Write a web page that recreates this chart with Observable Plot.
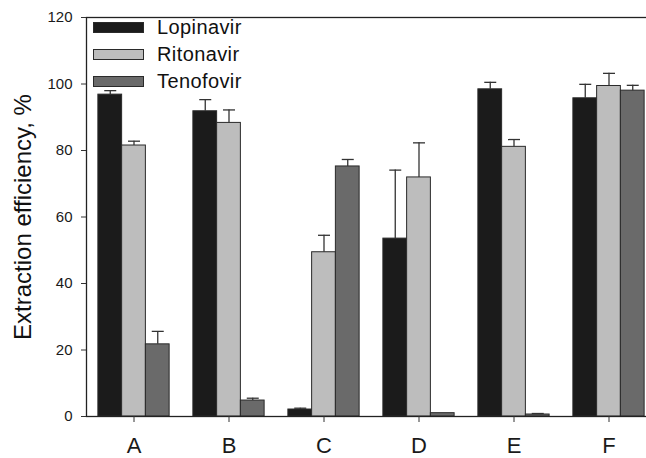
<!DOCTYPE html>
<html>
<head>
<meta charset="utf-8">
<script src="https://cdn.jsdelivr.net/npm/d3@7"></script>
<script src="https://cdn.jsdelivr.net/npm/@observablehq/plot@0.6"></script>
<style>
  html, body { margin: 0; padding: 0; background: #fff; overflow: hidden; }
  #wrap { position: relative; width: 646px; height: 458px; font-family: "Liberation Sans", Arial, sans-serif; }
  #legend { position: absolute; left: 93px; top: 14px; }
  .row { display: flex; align-items: center; height: 27px; }
  .sw { width: 51px; height: 11px; box-sizing: border-box; border: 1px solid #2a2a2a; margin-right: 13px; }
  .lab { font-size: 20px; color: #111; line-height: 23px; letter-spacing: 0.4px; }
</style>
</head>
<body>
<div id="wrap"></div>
<script>
// ---- data ----
const groups = ["A", "B", "C", "D", "E", "F"];
const series = ["Lopinavir", "Ritonavir", "Tenofovir"];
const colors = ["#1b1b1b", "#bdbdbd", "#6a6a6a"];
const lopinavir    = [96.8, 91.8, 2.1, 53.5, 98.4, 95.7];
const lopinavirErr = [1.2, 3.5, 0.4, 20.6, 2.1, 4.2];
const ritonavir    = [81.5, 88.3, 49.4, 71.9, 81.1, 99.4];
const ritonavirErr = [1.3, 3.9, 5.1, 10.4, 2.2, 3.8];
const tenofovir    = [21.7, 4.8, 75.2, 1.0, 0.6, 98.0];
const tenofovirErr = [3.9, 0.7, 2.1, 0, 0.3, 1.6];
const yTicks = [0, 20, 40, 60, 80, 100, 120];
const yLabel = "Extraction efficiency, %";

// ---- build table ----
const values = [lopinavir, ritonavir, tenofovir];
const errs = [lopinavirErr, ritonavirErr, tenofovirErr];
const rows = groups.flatMap((g, i) => series.map((s, j) => ({
  group: g, series: s, key: g + "|" + s, value: values[j][i], err: errs[j][i]
})));
const domain = [];
groups.forEach((g, i) => {
  series.forEach(s => domain.push(g + "|" + s));
  if (i < groups.length - 1) domain.push(g + "|gap");
});
const middleKeys = groups.map(g => g + "|" + series[1]);
const errRows = rows.filter(d => d.err > 0);

const capSymbol = {
  draw(context) { context.moveTo(-6, 0); context.lineTo(6, 0); }
};

const chart = Plot.plot({
  width: 646,
  height: 458,
  marginLeft: 86,
  marginRight: -10,
  marginTop: 17,
  marginBottom: 42,
  style: { fontFamily: "'Liberation Sans', Arial, sans-serif", color: "#1a1a1a", background: "white" },
  x: { type: "band", domain, paddingInner: 0, paddingOuter: 0.5, round: false },
  y: { domain: [0, 120] },
  color: { domain: series, range: colors },
  marks: [
    Plot.barY(rows, { x: "key", y: "value", fill: "series", stroke: "#2a2a2a", strokeWidth: 1 }),
    Plot.ruleX(errRows, { x: "key", y1: "value", y2: d => d.value + d.err, stroke: "#333", strokeWidth: 1.3 }),
    Plot.dot(errRows, { x: "key", y: d => d.value + d.err, symbol: capSymbol, r: 4, stroke: "#333", strokeWidth: 1.3, fill: "none" }),
    Plot.frame({ stroke: "#222", strokeWidth: 1.3 }),
    Plot.axisY({ ticks: yTicks, tickSize: 5, tickPadding: 9, fontSize: 15, label: null, stroke: "#333" }),
    Plot.axisX({ ticks: middleKeys, tickFormat: d => d.split("|")[0], tickSize: 6, tickPadding: 15, fontSize: 22, label: null, stroke: "#333" }),
    Plot.text([yLabel], { text: d => d, frameAnchor: "left", textAnchor: "middle", rotate: -90, dx: -63, fontSize: 24, fill: "#111" })
  ]
});

const wrap = document.getElementById("wrap");
wrap.appendChild(chart);

const legend = document.createElement("div");
legend.id = "legend";
series.forEach((s, j) => {
  const row = document.createElement("div");
  row.className = "row";
  const sw = document.createElement("div");
  sw.className = "sw";
  sw.style.background = colors[j];
  const lab = document.createElement("span");
  lab.className = "lab";
  lab.textContent = s;
  row.appendChild(sw);
  row.appendChild(lab);
  legend.appendChild(row);
});
wrap.appendChild(legend);
</script>
</body>
</html>
